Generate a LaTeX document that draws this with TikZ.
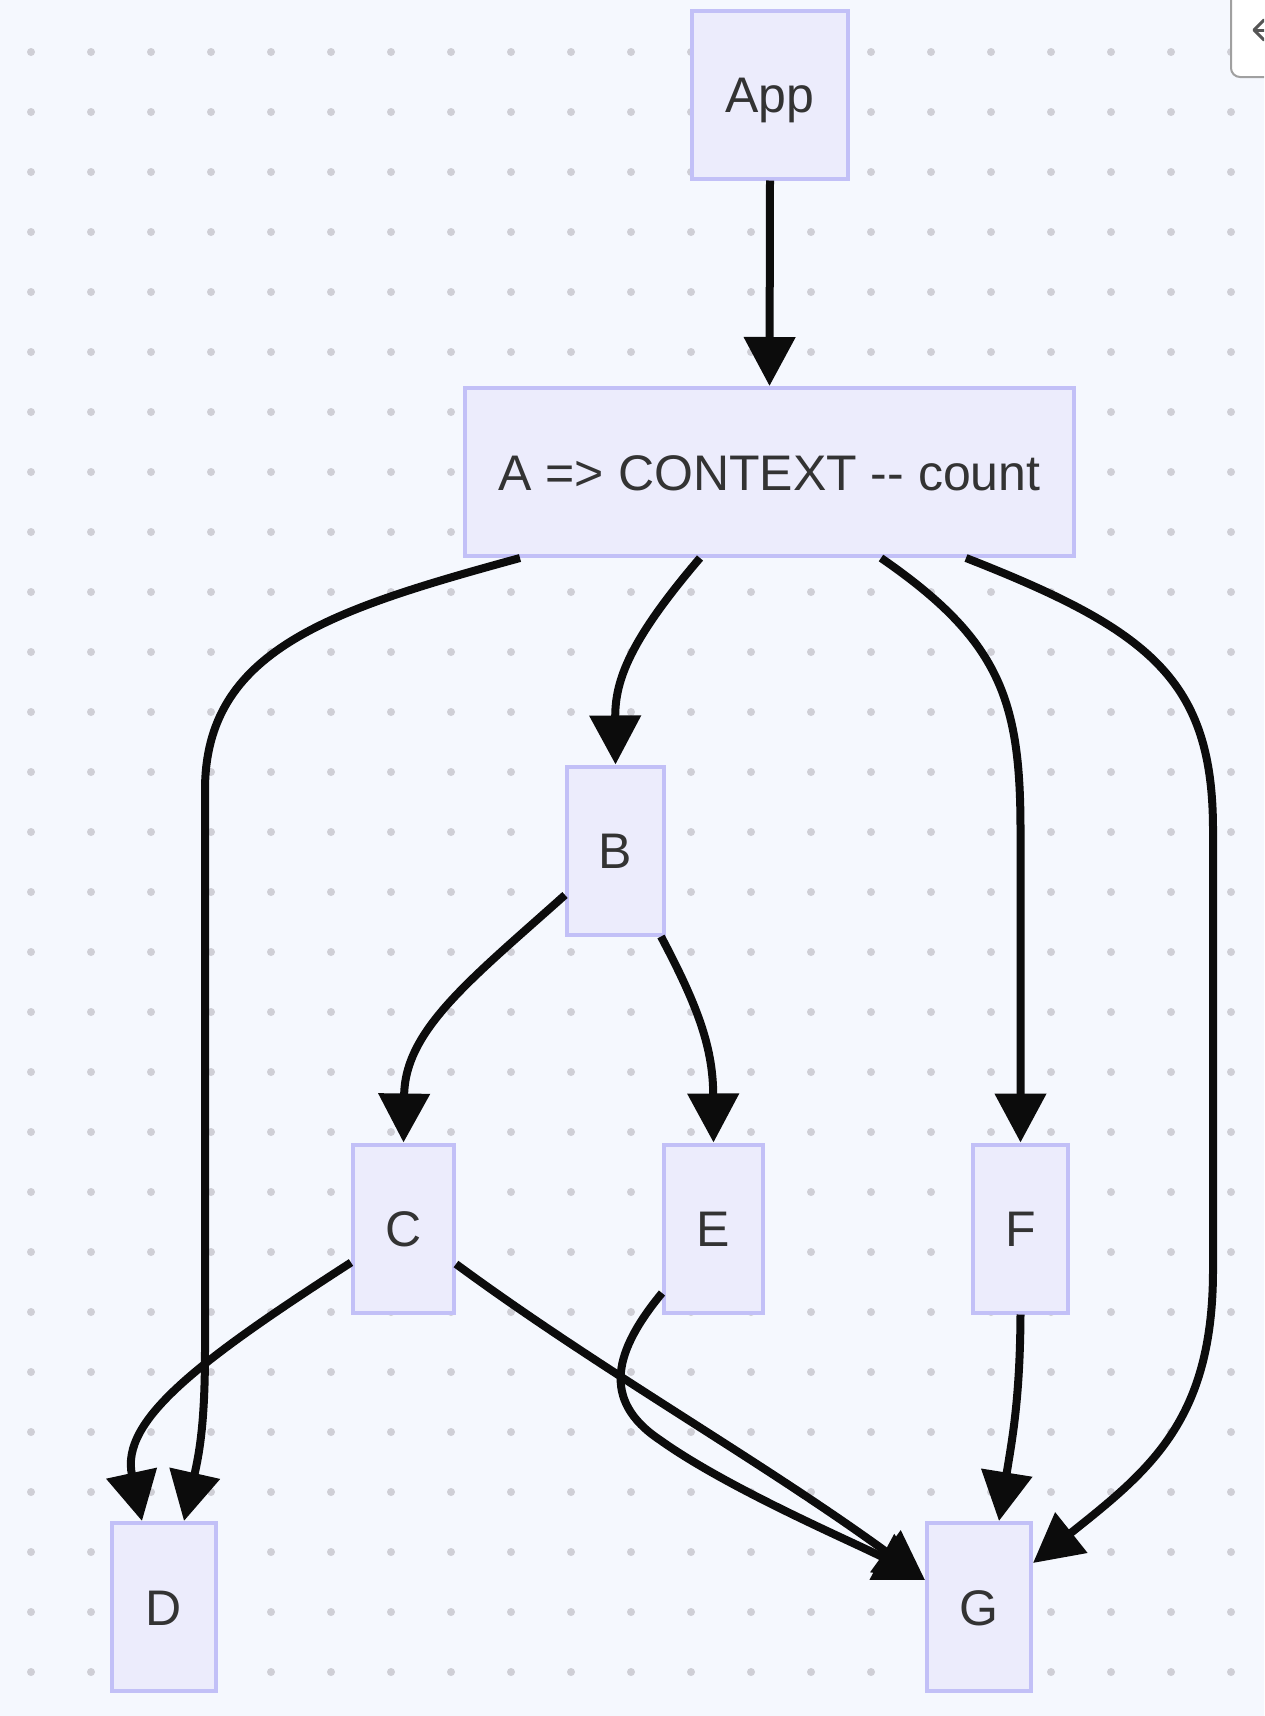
\documentclass[tikz,border=0pt]{standalone}
\usepackage{fontspec}
\setmainfont{Liberation Sans}
\usetikzlibrary{arrows.meta}
\definecolor{bgcol}{HTML}{F5F8FE}
\definecolor{dotcol}{HTML}{CFCFD6}
\definecolor{nodefill}{HTML}{ECECFC}
\definecolor{nodeborder}{HTML}{C2C0F7}
\definecolor{txtcol}{HTML}{333333}
\definecolor{edgecol}{HTML}{0C0C0C}
\definecolor{btnborder}{HTML}{A0A0A0}
\definecolor{btnglyph}{HTML}{555555}
\begin{document}
\begin{tikzpicture}[x=1pt,y=-1pt,
  nbox/.style={draw=nodeborder, fill=nodefill, line width=4pt, text=txtcol,
    font=\fontsize{50}{60}\selectfont, minimum height=168pt, inner sep=0pt,
    text height=36pt, text depth=0pt, anchor=center},
  conn/.style={draw=edgecol, line width=8pt, -{Triangle[length=49pt,width=50pt]}},
]
\useasboundingbox (0,0) rectangle (1264,1716);
\fill[bgcol] (0,0) rectangle (1264,1716);
\foreach \i in {0,...,20}{
  \foreach \j in {0,...,27}{
    \fill[dotcol] ({31+60*\i},{52+60*\j}) circle (4pt);
  }
}
% nodes
\node[nbox, minimum width=156pt] (App) at (770,94.5) {App};
\node[nbox, minimum width=609pt] (A) at (769.5,472) {A => CONTEXT -{}- count};
\node[nbox, minimum width=97pt] (B) at (615.5,850.5) {B};
\node[nbox, minimum width=101pt] (C) at (403.5,1228.5) {C};
\node[nbox, minimum width=99pt] (E) at (713.5,1228.5) {E};
\node[nbox, minimum width=95pt] (F) at (1020.5,1228.5) {F};
\node[nbox, minimum width=104pt] (D) at (164,1607) {D};
\node[nbox, minimum width=104pt] (G) at (979,1607) {G};
% edges
\draw[conn] (App.south) -- (A.north);
\draw[conn] ([xshift=-249.5pt]A.south) .. controls (330,610) and (205,650) .. (205,790)
  -- (205,1350) .. controls (205,1420) and (200,1450) .. ([xshift=20pt]D.north);
\draw[conn] ([xshift=-69.5pt]A.south) .. controls (630,640) and (615,680) .. (B.north);
\draw[conn] ([xshift=111.5pt]A.south) .. controls (1000,640) and (1020.5,700) .. (1020.5,830)
  -- (F.north);
\draw[conn] ([xshift=196.5pt]A.south) .. controls (1150,630) and (1213,680) .. (1213,830)
  -- (1213,1270) .. controls (1213,1420) and (1150,1470) .. ([yshift=-42pt]G.north east);
\draw[conn] ([yshift=-44.5pt]B.west) .. controls (470,980) and (405,1030) .. (C.north);
\draw[conn] ([xshift=-5pt]B.south east) .. controls (700,1010) and (713,1050) .. (E.north);
\draw[conn] ([yshift=-34pt]C.west) .. controls (200,1360) and (120,1420) .. ([xshift=-22pt]D.north);
\draw[conn] ([yshift=-35.5pt]C.east) .. controls (600,1370) and (760,1460) .. ([yshift=-59pt]G.north west);
\draw[conn] ([yshift=-64.5pt]E.west) .. controls (615,1350) and (600,1400) .. (660,1440)
  .. controls (730,1490) and (860,1545) .. ([yshift=-59pt]G.north west);
\draw[conn] (F.south) .. controls (1020,1400) and (1012,1440) .. ([xshift=20pt]G.north);
% corner button
\begin{scope}
  \clip (0,0) rectangle (1264,1716);
  \draw[fill=white, draw=btnborder, line width=2pt, rounded corners=9pt] (1231,-20) rectangle (1300,77);
  \draw[btnglyph, line width=3pt, line cap=round, line join=round] (1264,20) -- (1254,30) -- (1264,40);
  \draw[btnglyph, line width=3pt] (1254,30) -- (1266,30);
\end{scope}
\end{tikzpicture}
\end{document}
